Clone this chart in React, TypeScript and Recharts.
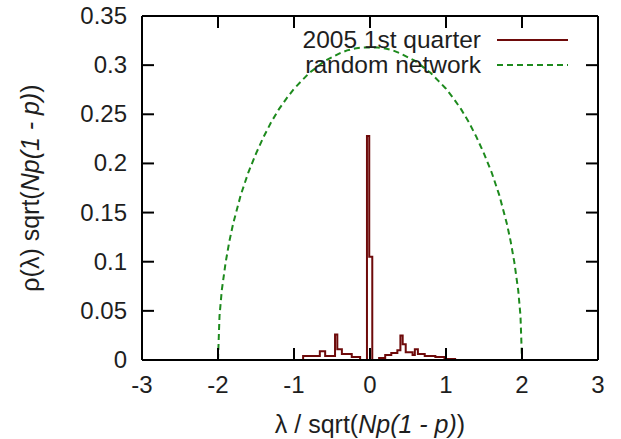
import { LineChart, Line, XAxis, YAxis, Label } from "recharts";

const X_TICKS = [-3, -2, -1, 0, 1, 2, 3];
const Y_TICKS = [0, 0.05, 0.1, 0.15, 0.2, 0.25, 0.3, 0.35];
const X_DOMAIN = [-3, 3];
const Y_DOMAIN = [0, 0.35];

// 2005 1st quarter: histogram (bin left edge, density)
const quarterX = [
  -1.05, -0.88, -0.8, -0.66, -0.59, -0.49, -0.46, -0.43, -0.37, -0.24, -0.13,
  -0.04, -0.01, 0.03, 0.12, 0.2, 0.28, 0.36, 0.4, 0.43, 0.47, 0.56, 0.59, 0.63,
  0.72, 0.86, 0.98, 1.12,
];
const quarterY = [
  0, 0.004, 0.004, 0.009, 0.004, 0.004, 0.026, 0.011, 0.006, 0.003, 0, 0.228,
  0.105, 0, 0.002, 0.005, 0.007, 0.01, 0.025, 0.016, 0.008, 0.005, 0.011, 0.006,
  0.004, 0.003, 0.001, 0,
];

// random network: semicircle
const randomX = [
  -2, -1.98, -1.95, -1.9, -1.85, -1.8, -1.7, -1.6, -1.5, -1.4, -1.3, -1.2, -1.1,
  -1, -0.9, -0.8, -0.7, -0.6, -0.5, -0.4, -0.3, -0.2, -0.1, 0, 0.1, 0.2, 0.3,
  0.4, 0.5, 0.6, 0.7, 0.8, 0.9, 1, 1.1, 1.2, 1.3, 1.4, 1.5, 1.6, 1.7, 1.8, 1.85,
  1.9, 1.95, 1.98, 2,
];
const randomY = [
  0, 0.045, 0.071, 0.099, 0.121, 0.139, 0.168, 0.191, 0.21, 0.227, 0.242, 0.255,
  0.266, 0.276, 0.284, 0.292, 0.298, 0.304, 0.308, 0.312, 0.315, 0.317, 0.318,
  0.318, 0.318, 0.317, 0.315, 0.312, 0.308, 0.304, 0.298, 0.292, 0.284, 0.276,
  0.266, 0.255, 0.242, 0.227, 0.21, 0.191, 0.168, 0.139, 0.121, 0.099, 0.071,
  0.045, 0,
];

const SERIES = ["2005 1st quarter", "random network"];

const quarterData = quarterX.map((x, i) => ({ x, y: quarterY[i] }));
const randomData = randomX.map((x, i) => ({ x, y: randomY[i] }));

const RED = "#6e0a0a";
const GREEN = "#1d8a1d";
const TEXT = "#1e1e1e";
const FONT = "'Liberation Sans', Arial, sans-serif";
const FS = 24;
const TITLE_FS = 25;
const TICK_LEN = 12;
const BLACK = { stroke: "#000", strokeWidth: 2 };

const BottomTick = (props: any) => {
  const { x, y, payload } = props;
  return (
    <text x={x} y={y + 33} textAnchor="middle" fill={TEXT} fontSize={FS} fontFamily={FONT}>
      {payload.value}
    </text>
  );
};

const LeftTick = (props: any) => {
  const { x, y, payload } = props;
  return (
    <text x={x - 15} y={y + 8} textAnchor="end" fill={TEXT} fontSize={FS} fontFamily={FONT}>
      {payload.value}
    </text>
  );
};

const NoTick = () => <g />;

const XTitle = (props: any) => {
  const { viewBox } = props;
  const cx = viewBox.x + viewBox.width / 2;
  return (
    <text x={cx} y={viewBox.y + 73} textAnchor="middle" fill={TEXT} fontSize={TITLE_FS} fontFamily={FONT}>
      <tspan>λ / sqrt(</tspan>
      <tspan fontStyle="italic">Np(1 - p)</tspan>
      <tspan>)</tspan>
    </text>
  );
};

const YTitle = (props: any) => {
  const { viewBox } = props;
  const cy = viewBox.y + viewBox.height / 2;
  const cx = 39;
  return (
    <text
      x={cx}
      y={cy}
      transform={`rotate(-90 ${cx} ${cy})`}
      textAnchor="middle"
      fill={TEXT}
      fontSize={TITLE_FS}
      fontFamily={FONT}
    >
      <tspan>ρ(λ) sqrt(</tspan>
      <tspan fontStyle="italic">Np(1 - p)</tspan>
      <tspan>)</tspan>
    </text>
  );
};

// legend drawn inside the chart svg, hung off the top axis box
const LegendBox = (props: any) => {
  const { viewBox } = props;
  const right = viewBox.x + viewBox.width;
  const top = viewBox.y + viewBox.height;
  const textX = right - 117;
  const lineX1 = right - 101;
  const lineX2 = right - 30;
  return (
    <g>
      <text x={textX} y={top + 32} textAnchor="end" fill={TEXT} fontSize={24.5} fontFamily={FONT}>
        {SERIES[0]}
      </text>
      <line x1={lineX1} x2={lineX2} y1={top + 24} y2={top + 24} stroke={RED} strokeWidth={2} />
      <text x={textX} y={top + 57} textAnchor="end" fill={TEXT} fontSize={24.5} fontFamily={FONT}>
        {SERIES[1]}
      </text>
      <line
        x1={lineX1}
        x2={lineX2}
        y1={top + 49}
        y2={top + 49}
        stroke={GREEN}
        strokeWidth={2}
        strokeDasharray="6 4"
      />
    </g>
  );
};

export default function App() {
  return (
    <div style={{ position: "absolute", left: 0, top: 0 }}>
      <LineChart width={621} height={439} margin={{ top: 15, right: 22, bottom: 39, left: 82 }}>
        <XAxis
          dataKey="x"
          type="number"
          domain={X_DOMAIN}
          ticks={X_TICKS}
          tickSize={-TICK_LEN}
          tickLine={BLACK}
          tickMargin={TICK_LEN}
          height={40}
          axisLine={BLACK}
          tick={<BottomTick />}
          interval={0}
        >
          <Label content={<XTitle />} />
        </XAxis>
        <XAxis
          xAxisId="top"
          dataKey="x"
          type="number"
          orientation="top"
          domain={X_DOMAIN}
          ticks={X_TICKS}
          tickSize={-TICK_LEN}
          tickLine={BLACK}
          tickMargin={0}
          height={1}
          axisLine={BLACK}
          tick={<NoTick />}
          interval={0}
        >
          <Label content={<LegendBox />} />
        </XAxis>
        <YAxis
          type="number"
          domain={Y_DOMAIN}
          ticks={Y_TICKS}
          tickSize={-TICK_LEN}
          tickLine={BLACK}
          tickMargin={TICK_LEN}
          width={60}
          axisLine={BLACK}
          tick={<LeftTick />}
          interval={0}
        >
          <Label content={<YTitle />} />
        </YAxis>
        <YAxis
          yAxisId="right"
          orientation="right"
          type="number"
          domain={Y_DOMAIN}
          ticks={Y_TICKS}
          tickSize={-TICK_LEN}
          tickLine={BLACK}
          tickMargin={0}
          width={1}
          axisLine={BLACK}
          tick={<NoTick />}
          interval={0}
        />
        <Line
          data={randomData}
          dataKey="y"
          xAxisId="top"
          yAxisId="right"
          name={SERIES[1]}
          type="linear"
          stroke={GREEN}
          strokeWidth={2}
          strokeDasharray="6 4"
          dot={false}
          isAnimationActive={false}
        />
        <Line
          data={quarterData}
          dataKey="y"
          name={SERIES[0]}
          type="stepAfter"
          stroke={RED}
          strokeWidth={2}
          dot={false}
          isAnimationActive={false}
        />
      </LineChart>
    </div>
  );
}
